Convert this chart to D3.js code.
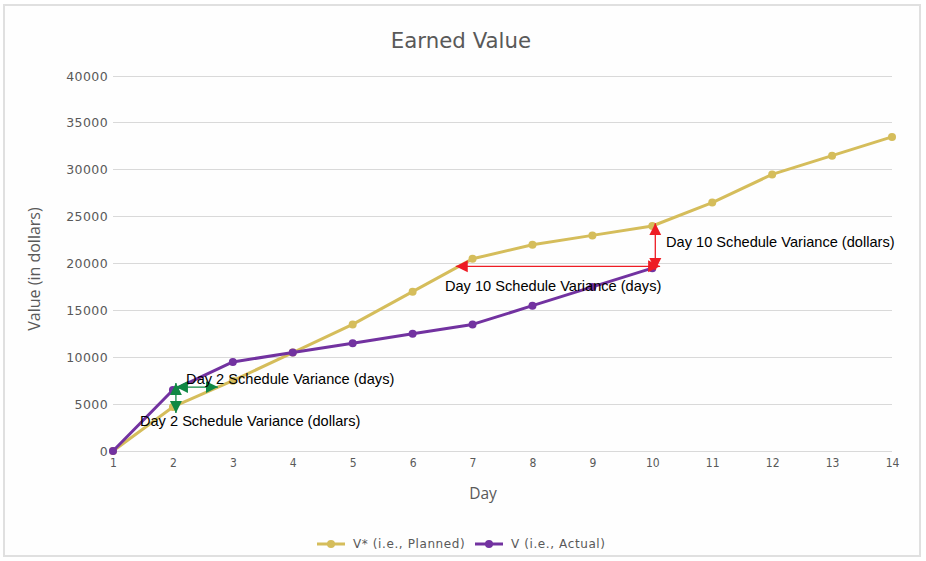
<!DOCTYPE html>
<html><head><meta charset="utf-8">
<script src="https://cdn.jsdelivr.net/npm/d3@7"></script>
<style>body{margin:0;background:#fff}svg{display:block}</style>
</head><body><svg id="c" width="926" height="561"></svg>
<script>
const days = [1,2,3,4,5,6,7,8,9,10,11,12,13,14];
const planned = [0,4700,7500,10500,13500,17000,20500,22000,23000,24000,26500,29500,31500,33500];
const actualDays = [1,2,3,4,5,6,7,8,9,10];
const actual = [0,6500,9500,10500,11500,12500,13500,15500,17500,19500];
const yTicks = [0,5000,10000,15000,20000,25000,30000,35000,40000];
const seriesNames = ["V* (i.e., Planned)", "V (i.e., Actual)"];
// annotation arrows (double-headed), data units
const arrows = [
  {from:[2.05,7250], to:[2.05,4050], color:"green"},
  {from:[2.05,6820], to:[2.75,6820], color:"green"},
  {from:[10.05,19300], to:[10.05,24300], color:"red"},
  {from:[10.13,19700], to:[6.72,19700], color:"red"}
];
const labels = [
  {text:"Day 2 Schedule Variance (days)", x:2.22, y:7200},
  {text:"Day 2 Schedule Variance (dollars)", x:1.45, y:2650},
  {text:"Day 10 Schedule Variance (dollars)", x:10.23, y:21750},
  {text:"Day 10 Schedule Variance (days)", x:6.54, y:17050}
];

const svg = d3.select("#c");
const C = {planned:"#d5bd5b", actual:"#7232a0", green:"#108844", red:"#ee1c24"};
const x = d3.scaleLinear().domain([1,14]).range([113,892]);
const y = d3.scaleLinear().domain([0,40000]).range([451,76]);

svg.append("rect").attr("x",4).attr("y",5).attr("width",916).attr("height",551)
  .attr("fill","#fefefe").attr("stroke","#e0e0e0").attr("stroke-width",2);

svg.append("text").attr("x",461).attr("y",48).attr("text-anchor","middle")
  .attr("font-family","DejaVu Sans").attr("font-size",21.3).attr("fill","#595959").text("Earned Value");

// grid
svg.append("g").selectAll("line").data(yTicks).join("line")
  .attr("x1",113).attr("x2",892).attr("y1",d=>y(d)).attr("y2",d=>y(d))
  .attr("stroke","#d9d9d9").attr("stroke-width",1).attr("shape-rendering","crispEdges");

const yAxis = svg.append("g").attr("transform","translate(113,0)")
  .call(d3.axisLeft(y).tickValues(yTicks).tickSize(0).tickPadding(5).tickFormat(d3.format("d")));
yAxis.select(".domain").remove();
yAxis.selectAll("text").attr("font-family","DejaVu Sans").attr("font-size",12.5).attr("fill","#595959").attr("letter-spacing",0.4);

const xAxis = svg.append("g").attr("transform","translate(0,451)")
  .call(d3.axisBottom(x).tickValues(days).tickSize(0).tickPadding(7).tickFormat(d3.format("d")));
xAxis.select(".domain").remove();
xAxis.selectAll("text").attr("font-family","DejaVu Sans Condensed").attr("font-size",12).attr("fill","#595959");

svg.append("text").attr("transform","translate(40,269) rotate(-90)").attr("text-anchor","middle")
  .attr("font-family","Open Sans").attr("font-size",16).attr("fill","#595959").text("Value (in dollars)");
svg.append("text").attr("x",483).attr("y",499).attr("text-anchor","middle")
  .attr("font-family","Open Sans").attr("font-size",15.5).attr("fill","#595959").text("Day");

const line = d3.line().x(d=>x(d[0])).y(d=>y(d[1]));
const pData = days.map((d,i)=>[d,planned[i]]);
const aData = actualDays.map((d,i)=>[d,actual[i]]);
svg.append("path").datum(pData).attr("d",line).attr("fill","none").attr("stroke",C.planned).attr("stroke-width",3).attr("stroke-linejoin","round");
svg.append("g").selectAll("circle").data(pData).join("circle").attr("cx",d=>x(d[0])).attr("cy",d=>y(d[1])).attr("r",4).attr("fill",C.planned);
svg.append("path").datum(aData).attr("d",line).attr("fill","none").attr("stroke",C.actual).attr("stroke-width",3).attr("stroke-linejoin","round");
svg.append("g").selectAll("circle").data(aData).join("circle").attr("cx",d=>x(d[0])).attr("cy",d=>y(d[1])).attr("r",4).attr("fill",C.actual);

// arrow markers
const defs = svg.append("defs");
["green","red"].forEach(k=>{
  defs.append("marker").attr("id","m-"+k).attr("viewBox","0 0 10 10").attr("refX",10).attr("refY",5)
    .attr("markerWidth",12).attr("markerHeight",13).attr("markerUnits","userSpaceOnUse").attr("orient","auto-start-reverse")
    .append("path").attr("d","M0,0L10,5L0,10Z").attr("fill",C[k]);
});
svg.append("g").selectAll("line").data(arrows).join("line")
  .attr("x1",d=>x(d.from[0])).attr("y1",d=>y(d.from[1])).attr("x2",d=>x(d.to[0])).attr("y2",d=>y(d.to[1]))
  .attr("stroke",d=>C[d.color]).attr("stroke-width",1.3)
  .attr("marker-start",d=>`url(#m-${d.color})`).attr("marker-end",d=>`url(#m-${d.color})`);

svg.append("g").selectAll("text").data(labels).join("text")
  .attr("x",d=>x(d.x)).attr("y",d=>y(d.y)).attr("font-family","Liberation Sans").attr("font-size",14.6).attr("fill","#000").text(d=>d.text);

// legend
const lg = svg.append("g");
const items = [{name:seriesNames[0],c:C.planned,x:317},{name:seriesNames[1],c:C.actual,x:475}];
items.forEach(it=>{
  lg.append("line").attr("x1",it.x).attr("x2",it.x+28).attr("y1",544).attr("y2",544).attr("stroke",it.c).attr("stroke-width",3);
  lg.append("circle").attr("cx",it.x+14).attr("cy",544).attr("r",4).attr("fill",it.c);
  lg.append("text").attr("x",it.x+36).attr("y",548).attr("font-family","DejaVu Sans").attr("font-size",12).attr("letter-spacing",0.6).attr("fill","#595959").text(it.name);
});
</script></body></html>
